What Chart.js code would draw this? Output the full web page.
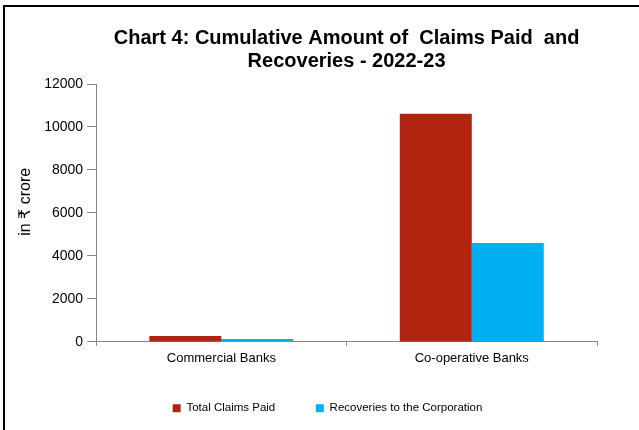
<!DOCTYPE html>
<html>
<head>
<meta charset="utf-8">
<script src="https://cdn.jsdelivr.net/npm/chart.js@4"></script>
<style>
  body { margin: 0; background: #fff; }
  #frame {
    position: absolute; left: 3px; top: 5px;
    width: 634px; height: 423px;
    border-left: 2px solid #000; border-top: 2px solid #000;
  }
</style>
</head>
<body>
<div id="frame"><canvas id="chart4" width="634" height="423"></canvas></div>
<script>
var categories = ["Commercial Banks", "Co-operative Banks"];
var claimsPaid = [280, 10620];
var recoveries = [140, 4600];
var seriesNames = ["Total Claims Paid", "Recoveries to the Corporation"];
var yTicks = [0, 2000, 4000, 6000, 8000, 10000, 12000];

var font = "'Liberation Sans', Arial, 'DejaVu Sans', sans-serif";

var ctx = document.getElementById("chart4");
var chart4 = new Chart(ctx, {
	type: 'bar',
	data: {
		labels: categories,
		datasets: [{
			label: seriesNames[0],
			data: claimsPaid,
			backgroundColor: "#B2240F",
			barPercentage: 1.0,
			categoryPercentage: 0.575
		}, {
			label: seriesNames[1],
			data: recoveries,
			backgroundColor: "#00B0F0",
			barPercentage: 1.0,
			categoryPercentage: 0.575
		}]
	},
	options: {
		responsive: false,
		animation: false,
		layout: {
			padding: { left: 11, right: 0, top: 0, bottom: 6 }
		},
		plugins: {
			title: {
				display: true,
				fullSize: false,
				text: ["Chart 4: Cumulative Amount of  Claims Paid  and", "Recoveries - 2022-23"],
				color: "#000",
				font: { family: font, size: 20, weight: 'bold', lineHeight: 1.15 },
				padding: { top: 20, bottom: 11 }
			},
			legend: {
				position: 'bottom',
				labels: {
					boxWidth: 8,
					boxHeight: 8,
					padding: 31,
					color: "#000",
					font: { family: font, size: 11.5 },
					generateLabels: function(chart) {
						var items = Chart.defaults.plugins.legend.labels.generateLabels(chart);
						// wider gap after the first entry, as in the original
						items[0].text = items[0].text + "   ";
						return items;
					}
				}
			},
			tooltip: { enabled: false }
		},
		scales: {
			x: {
				grid: { drawOnChartArea: false, color: "#888", tickLength: 4 },
				border: { color: "#888" },
				ticks: { color: "#000", font: { family: font, size: 13 }, padding: 5 }
			},
			y: {
				min: 0,
				max: 12000,
				afterBuildTicks: function(axis) {
					axis.ticks = yTicks.map(function(v) { return { value: v }; });
				},
				grid: { drawOnChartArea: false, color: "#888", tickLength: 9 },
				border: { color: "#888" },
				ticks: {
					color: "#000",
					font: { family: font, size: 14 },
					padding: 4,
					callback: function(value) { return String(value); }
				},
				title: {
					display: true,
					text: "     in ₹ crore",
					color: "#000",
					font: { family: font, size: 16 },
					padding: { top: 0, bottom: 5 }
				}
			},
			// empty space on the right of the plot, like the original
			yRight: {
				position: 'right',
				grid: { display: false },
				border: { display: false },
				ticks: { display: false },
				afterFit: function(scale) {
					scale.width = 42;
				}
			}
		}
	}
});
</script>
</body>
</html>
